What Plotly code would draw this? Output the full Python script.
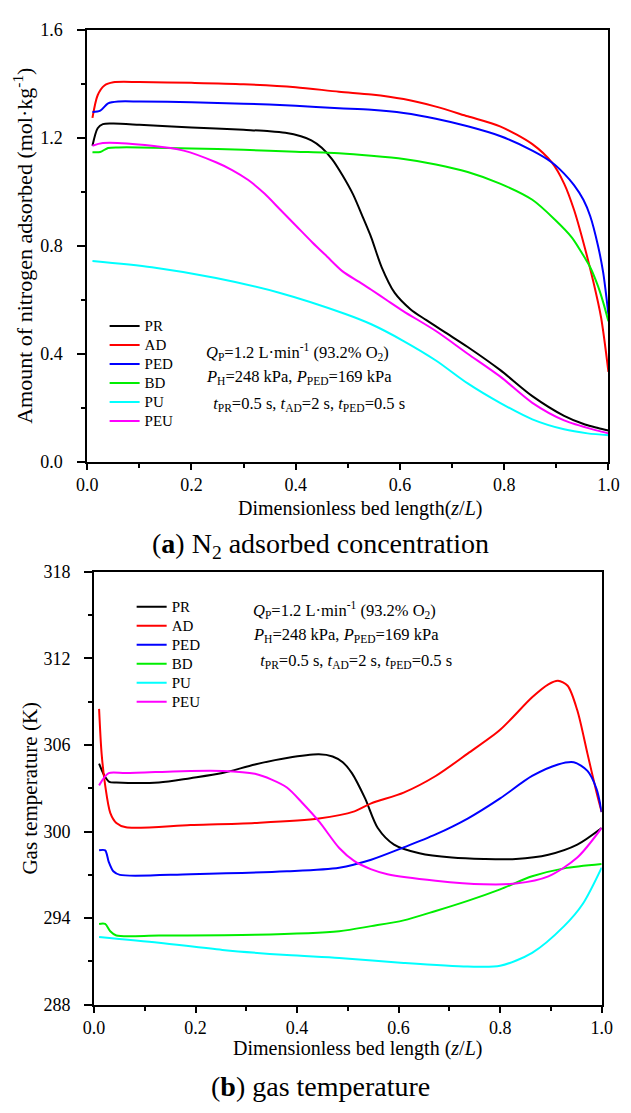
import plotly.graph_objects as go

# ---------------- (a) N2 adsorbed concentration ----------------
a_pr_x = [0.01, 0.02, 0.03, 0.05, 0.1, 0.2, 0.3, 0.35, 0.38, 0.41, 0.43, 0.45, 0.47, 0.49, 0.51, 0.53, 0.545, 0.565, 0.59, 0.62, 0.65, 0.69, 0.73, 0.792, 0.854, 0.915, 0.955, 0.98, 1.0]
a_pr_y = [1.17, 1.235, 1.25, 1.252, 1.248, 1.238, 1.229, 1.224, 1.218, 1.205, 1.19, 1.163, 1.12, 1.06, 0.99, 0.9, 0.83, 0.72, 0.625, 0.565, 0.525, 0.475, 0.425, 0.34, 0.243, 0.17, 0.138, 0.125, 0.116]

a_ad_x = [0.01, 0.02, 0.033, 0.05, 0.1, 0.2, 0.3, 0.4, 0.483, 0.545, 0.607, 0.669, 0.73, 0.792, 0.854, 0.891, 0.915, 0.934, 0.952, 0.971, 0.986, 1.0]
a_ad_y = [1.273, 1.357, 1.393, 1.405, 1.406, 1.403, 1.398, 1.387, 1.370, 1.360, 1.343, 1.315, 1.279, 1.242, 1.176, 1.109, 1.030, 0.933, 0.812, 0.667, 0.533, 0.333]

a_ped_x = [0.01, 0.025, 0.04, 0.06, 0.1, 0.2, 0.3, 0.4, 0.483, 0.545, 0.607, 0.669, 0.73, 0.792, 0.854, 0.891, 0.915, 0.934, 0.952, 0.965, 0.98, 0.99, 1.0]
a_ped_y = [1.295, 1.30, 1.327, 1.334, 1.334, 1.331, 1.326, 1.318, 1.309, 1.303, 1.291, 1.270, 1.242, 1.206, 1.152, 1.109, 1.067, 1.024, 0.970, 0.91, 0.80, 0.70, 0.545]

a_bd_x = [0.01, 0.025, 0.04, 0.06, 0.1, 0.2, 0.3, 0.4, 0.483, 0.545, 0.607, 0.669, 0.73, 0.792, 0.854, 0.897, 0.93, 0.95, 0.965, 0.98, 0.99, 1.0]
a_bd_y = [1.146, 1.147, 1.162, 1.164, 1.164, 1.16, 1.155, 1.148, 1.142, 1.133, 1.121, 1.101, 1.073, 1.030, 0.970, 0.897, 0.83, 0.77, 0.72, 0.65, 0.59, 0.52]

a_pu_x = [0.01, 0.124, 0.247, 0.37, 0.494, 0.545, 0.607, 0.669, 0.73, 0.792, 0.854, 0.915, 0.96, 1.0]
a_pu_y = [0.743, 0.72, 0.68, 0.625, 0.548, 0.509, 0.447, 0.375, 0.29, 0.218, 0.157, 0.12, 0.105, 0.098]

a_peu_x = [0.01, 0.03, 0.124, 0.185, 0.247, 0.278, 0.309, 0.34, 0.37, 0.401, 0.432, 0.46, 0.49, 0.52, 0.545, 0.575, 0.607, 0.669, 0.73, 0.792, 0.854, 0.915, 0.977, 1.0]
a_peu_y = [1.17, 1.18, 1.17, 1.152, 1.109, 1.08, 1.043, 0.993, 0.934, 0.873, 0.812, 0.76, 0.705, 0.668, 0.637, 0.598, 0.557, 0.484, 0.40, 0.316, 0.218, 0.153, 0.116, 0.105]

# ---------------- (b) gas temperature ----------------
b_pr_x = [0.01, 0.02, 0.03, 0.044, 0.128, 0.19, 0.253, 0.317, 0.38, 0.443, 0.47, 0.49, 0.508, 0.534, 0.559, 0.591, 0.641, 0.705, 0.768, 0.831, 0.895, 0.952, 1.0]
b_pr_y = [304.7, 303.9, 303.45, 303.4, 303.4, 303.7, 304.05, 304.65, 305.1, 305.35, 305.2, 304.8, 304.05, 302.3, 300.25, 299.1, 298.5, 298.2, 298.1, 298.1, 298.4, 299.1, 300.25]

b_ad_x = [0.01, 0.015, 0.022, 0.032, 0.044, 0.063, 0.19, 0.317, 0.443, 0.513, 0.546, 0.61, 0.673, 0.736, 0.8, 0.863, 0.895, 0.914, 0.933, 0.952, 0.972, 0.99, 1.0]
b_ad_y = [308.5, 305.4, 303.2, 301.3, 300.6, 300.3, 300.45, 300.6, 300.9, 301.4, 301.95, 302.7, 303.85, 305.4, 307.05, 309.3, 310.2, 310.45, 310.1, 308.4, 305.4, 302.7, 301.35]

b_ped_x = [0.01, 0.022, 0.029, 0.038, 0.051, 0.19, 0.38, 0.483, 0.546, 0.61, 0.673, 0.736, 0.8, 0.863, 0.914, 0.945, 0.972, 0.99, 1.0]
b_ped_y = [298.7, 298.7, 297.9, 297.25, 297.0, 297.05, 297.25, 297.5, 298.05, 298.9, 299.8, 300.9, 302.3, 303.85, 304.65, 304.8, 304.2, 302.95, 301.35]

b_bd_x = [0.01, 0.022, 0.032, 0.044, 0.128, 0.317, 0.483, 0.546, 0.61, 0.673, 0.736, 0.8, 0.863, 0.926, 1.0]
b_bd_y = [293.6, 293.6, 293.1, 292.8, 292.8, 292.85, 293.1, 293.45, 293.85, 294.5, 295.2, 296.0, 296.9, 297.45, 297.75]

b_pu_x = [0.01, 0.128, 0.253, 0.38, 0.483, 0.61, 0.736, 0.8, 0.863, 0.926, 0.963, 1.0]
b_pu_y = [292.7, 292.3, 291.8, 291.45, 291.25, 290.9, 290.65, 290.7, 291.6, 293.45, 295.0, 297.5]

b_peu_x = [0.01, 0.029, 0.063, 0.19, 0.253, 0.317, 0.35, 0.38, 0.41, 0.444, 0.483, 0.513, 0.545, 0.578, 0.673, 0.768, 0.831, 0.895, 0.952, 1.0]
b_peu_y = [303.2, 304.05, 304.05, 304.2, 304.2, 304.0, 303.6, 303.05, 302.0, 300.67, 298.86, 297.95, 297.4, 297.05, 296.6, 296.35, 296.4, 296.9, 298.2, 300.25]

names = ["PR", "AD", "PED", "BD", "PU", "PEU"]
colors = ["#000000", "#ff0000", "#0000ff", "#00ee00", "#00ffff", "#ff00ff"]

top_series = [(a_pr_x, a_pr_y), (a_ad_x, a_ad_y), (a_ped_x, a_ped_y),
              (a_bd_x, a_bd_y), (a_pu_x, a_pu_y), (a_peu_x, a_peu_y)]
bot_series = [(b_pr_x, b_pr_y), (b_ad_x, b_ad_y), (b_ped_x, b_ped_y),
              (b_bd_x, b_bd_y), (b_pu_x, b_pu_y), (b_peu_x, b_peu_y)]

FONT = "'Liberation Serif', 'Times New Roman', Times, serif"
W, H = 631, 1113

def legend_label(n):
    return '<span style="font-size:15px">' + n + '</span>'

fig = go.Figure()
for (xs, ys), n, c in zip(top_series, names, colors):
    fig.add_trace(go.Scatter(x=xs, y=ys, mode="lines", name=legend_label(n),
                             line=dict(color=c, width=2, shape="spline", smoothing=0.8),
                             xaxis="x", yaxis="y", legend="legend"))
for (xs, ys), n, c in zip(bot_series, names, colors):
    fig.add_trace(go.Scatter(x=xs, y=ys, mode="lines", name=legend_label(n),
                             line=dict(color=c, width=2, shape="spline", smoothing=0.8),
                             xaxis="x2", yaxis="y2", legend="legend2"))

def px(xp):
    return xp / W

def py(yp):
    return 1 - yp / H

axis_common = dict(showline=True, linewidth=2, linecolor="black", mirror=True,
                   ticks="outside", tickwidth=1.5, tickcolor="black",
                   showgrid=False, zeroline=False,
                   tickfont=dict(family=FONT, size=18, color="black"))
minor_common = dict(ticks="outside", ticklen=4, tickcolor="black", tickwidth=1.5)

fig.update_layout(
    width=W, height=H,
    margin=dict(l=0, r=0, t=0, b=0),
    paper_bgcolor="white", plot_bgcolor="white",
    xaxis=dict(domain=[px(79), px(619)], range=[0, 1], anchor="y", ticklen=6,
               dtick=0.2, tickformat=".1f", minor=dict(dtick=0.1, **minor_common),
               **axis_common),
    yaxis=dict(domain=[py(460), py(20)], range=[0, 1.6], anchor="x", ticklen=8,
               dtick=0.4, tickformat=".1f", minor=dict(dtick=0.2, **minor_common),
               ticklabelstandoff=11,
               title=dict(text="Amount of nitrogen adsorbed (mol·kg<sup>-1</sup>)",
                          font=dict(family=FONT, size=22, color="black"), standoff=1),
               **axis_common),
    xaxis2=dict(domain=[px(86), px(612)], range=[0, 1], anchor="y2", ticklen=6,
                dtick=0.2, tickformat=".1f", minor=dict(dtick=0.1, **minor_common),
                **axis_common),
    yaxis2=dict(domain=[py(1013), py(572)], range=[288, 318], anchor="x2", ticklen=8,
                dtick=6, minor=dict(dtick=3, **minor_common),
                ticklabelstandoff=10,
                title=dict(text="Gas temperature (K)",
                           font=dict(family=FONT, size=21, color="black"), standoff=0),
                **axis_common),
    legend=dict(x=px(97), y=py(307), xanchor="left", yanchor="top",
                bgcolor="rgba(0,0,0,0)", font=dict(family=FONT, size=12, color="black"),
                tracegroupgap=0, itemwidth=30),
    legend2=dict(x=px(125), y=py(593), xanchor="left", yanchor="top",
                 bgcolor="rgba(0,0,0,0)", font=dict(family=FONT, size=12, color="black"),
                 tracegroupgap=0, itemwidth=30),
    showlegend=True,
)

# axis titles for x placed as paper annotations
xt_font = dict(family=FONT, size=20, color="black")
fig.add_annotation(text="Dimensionless bed length(<i>z</i>/<i>L</i>)",
                   x=px(362), y=py(508), xref="paper", yref="paper",
                   xanchor="center", yanchor="middle", showarrow=False, font=xt_font)
fig.add_annotation(text="Dimensionless bed length (<i>z</i>/<i>L</i>)",
                   x=px(359), y=py(1058), xref="paper", yref="paper",
                   xanchor="center", yanchor="middle", showarrow=False, font=xt_font)

ann_font = dict(family=FONT, size=16.5, color="black")
info_lines = ["<i>Q</i><sub>P</sub>=1.2 L·min<sup>-1</sup> (93.2% O<sub>2</sub>)",
              "<i>P</i><sub>H</sub>=248 kPa, <i>P</i><sub>PED</sub>=169 kPa",
              " <i>t</i><sub>PR</sub>=0.5 s, <i>t</i><sub>AD</sub>=2 s, <i>t</i><sub>PED</sub>=0.5 s"]
top_info_pos = [(200, 348), (200, 374), (203, 401)]
bot_info_pos = [(249, 611), (249, 636), (252, 663)]
for t, (x0, y0) in zip(info_lines, top_info_pos):
    fig.add_annotation(text=t, x=px(x0), y=py(y0), xref="paper", yref="paper",
                       xanchor="left", yanchor="middle", showarrow=False, font=ann_font)
for t, (x0, y0) in zip(info_lines, bot_info_pos):
    fig.add_annotation(text=t, x=px(x0), y=py(y0), xref="paper", yref="paper",
                       xanchor="left", yanchor="middle", showarrow=False, font=ann_font)

cap_font = dict(family=FONT, size=28, color="black")
fig.add_annotation(text="(<b>a</b>) N<sub>2</sub> adsorbed concentration",
                   x=px(321), y=py(545), xref="paper", yref="paper",
                   xanchor="center", yanchor="middle", showarrow=False, font=cap_font)
fig.add_annotation(text="(<b>b</b>) gas temperature",
                   x=px(321), y=py(1096), xref="paper", yref="paper",
                   xanchor="center", yanchor="middle", showarrow=False, font=cap_font)

fig.write_html("out.html")
